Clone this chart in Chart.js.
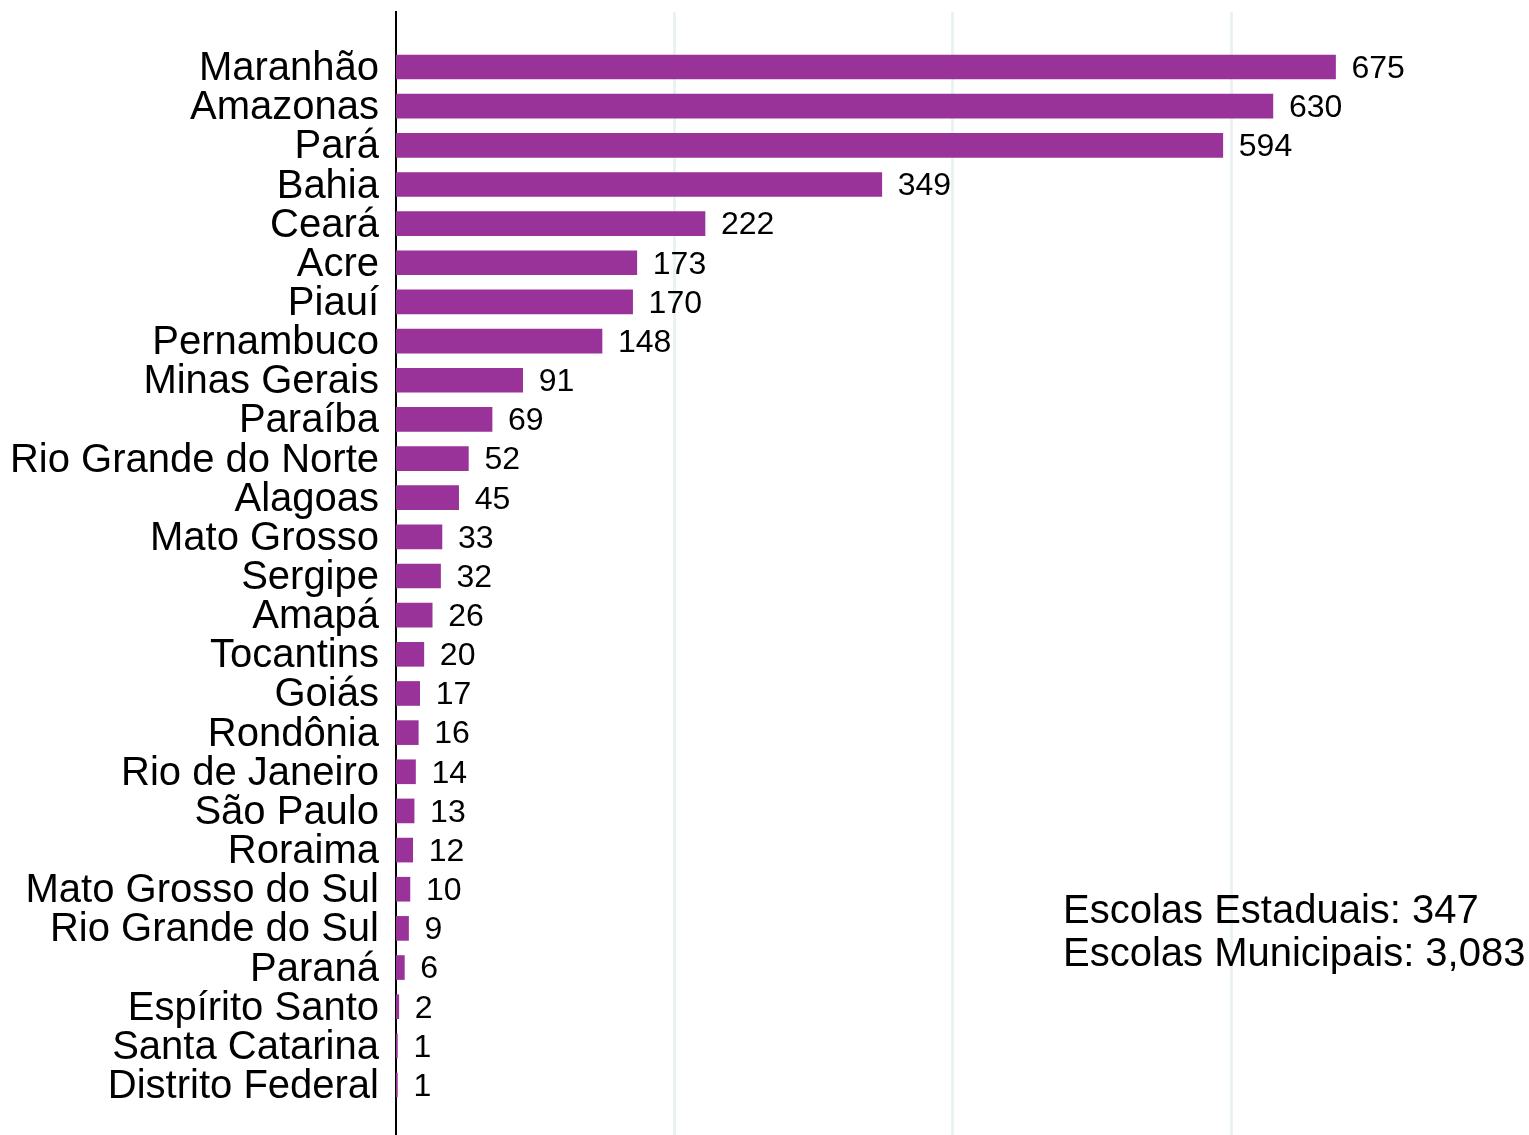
<!DOCTYPE html>
<html>
<head>
<meta charset="utf-8">
<script src="https://cdn.jsdelivr.net/npm/chart.js@4/dist/chart.umd.min.js"></script>
<style>
  html, body { margin: 0; padding: 0; background: #fff; }
  #wrap { width: 1529px; height: 1135px; }
</style>
</head>
<body>
<div id="wrap"><canvas id="c" width="1529" height="1135"></canvas></div>
<script>
// Escolas por estado
const states = [
    'Maranhão', 'Amazonas', 'Pará', 'Bahia', 'Ceará', 'Acre', 'Piauí', 'Pernambuco',
    'Minas Gerais', 'Paraíba', 'Rio Grande do Norte', 'Alagoas', 'Mato Grosso', 'Sergipe',
    'Amapá', 'Tocantins', 'Goiás', 'Rondônia', 'Rio de Janeiro', 'São Paulo', 'Roraima',
    'Mato Grosso do Sul', 'Rio Grande do Sul', 'Paraná', 'Espírito Santo', 'Santa Catarina',
    'Distrito Federal'
];
const schools = [675, 630, 594, 349, 222, 173, 170, 148, 91, 69, 52, 45, 33, 32, 26, 20, 17, 16, 14, 13, 12, 10, 9, 6, 2, 1, 1];
const gridTicks = [200, 400, 600];
const noteLines = ['Escolas Estaduais: 347', 'Escolas Municipais: 3,083'];

const FONT = 'Arial, "Liberation Sans", sans-serif';

const noPadding = (axis) => {
    axis.paddingTop = 0; axis.paddingBottom = 0;
    axis.paddingLeft = 0; axis.paddingRight = 0;
};

// value labels next to each bar
const valueLabels = {
    id: 'valueLabels',
    afterDatasetsDraw(chart) {
        const ctx = chart.ctx;
        const meta = chart.getDatasetMeta(0);
        ctx.save();
        ctx.font = '32px ' + FONT;
        ctx.fillStyle = '#000';
        ctx.textAlign = 'left';
        ctx.textBaseline = 'middle';
        meta.data.forEach((bar, i) => {
            ctx.fillText(String(schools[i]), bar.x + 16, bar.y + 2);
        });
        ctx.restore();
    }
};

// totals note, bottom right
const note = {
    id: 'note',
    afterDraw(chart) {
        const ctx = chart.ctx;
        const area = chart.chartArea;
        ctx.save();
        ctx.font = '40px ' + FONT;
        ctx.fillStyle = '#000';
        ctx.textAlign = 'left';
        ctx.textBaseline = 'alphabetic';
        noteLines.forEach((t, i) => {
            ctx.fillText(t, area.left + 667, area.top + 911 + i * 43);
        });
        ctx.restore();
    }
};

const chart = new Chart(document.getElementById('c'), {
    type: 'bar',
    data: {
        datasets: [{
            data: schools.map((v, i) => ({ x: v, y: i })),
            backgroundColor: '#993399',
            borderWidth: 0,
            barThickness: 24
        }]
    },
    options: {
        indexAxis: 'y',
        responsive: false,
        animation: false,
        layout: { padding: { top: 12, right: 0, bottom: 0, left: 0 } },
        plugins: { legend: { display: false }, tooltip: { enabled: false } },
        scales: {
            x: {
                type: 'linear',
                min: 0,
                max: 814,
                afterBuildTicks: (axis) => { axis.ticks = gridTicks.map(v => ({ value: v })); },
                afterFit: (axis) => { axis.height = 0; noPadding(axis); },
                ticks: { display: false },
                grid: { color: '#ebf2f4', lineWidth: 3, drawTicks: false },
                border: { display: false }
            },
            y: {
                type: 'linear',
                reverse: true,
                offset: false,
                min: -1.405,
                max: 27.277,
                afterBuildTicks: (axis) => { axis.ticks = states.map((s, i) => ({ value: i })); },
                afterFit: (axis) => { axis.width = 396; noPadding(axis); },
                ticks: {
                    autoSkip: false,
                    padding: 17,
                    labelOffset: 2,
                    color: '#000',
                    font: { size: 40, family: FONT },
                    callback: (v) => states[v]
                },
                grid: { display: false, drawTicks: false, offset: false },
                border: { display: true, color: '#000', width: 2 }
            }
        }
    },
    plugins: [valueLabels, note]
});
</script>
</body>
</html>
